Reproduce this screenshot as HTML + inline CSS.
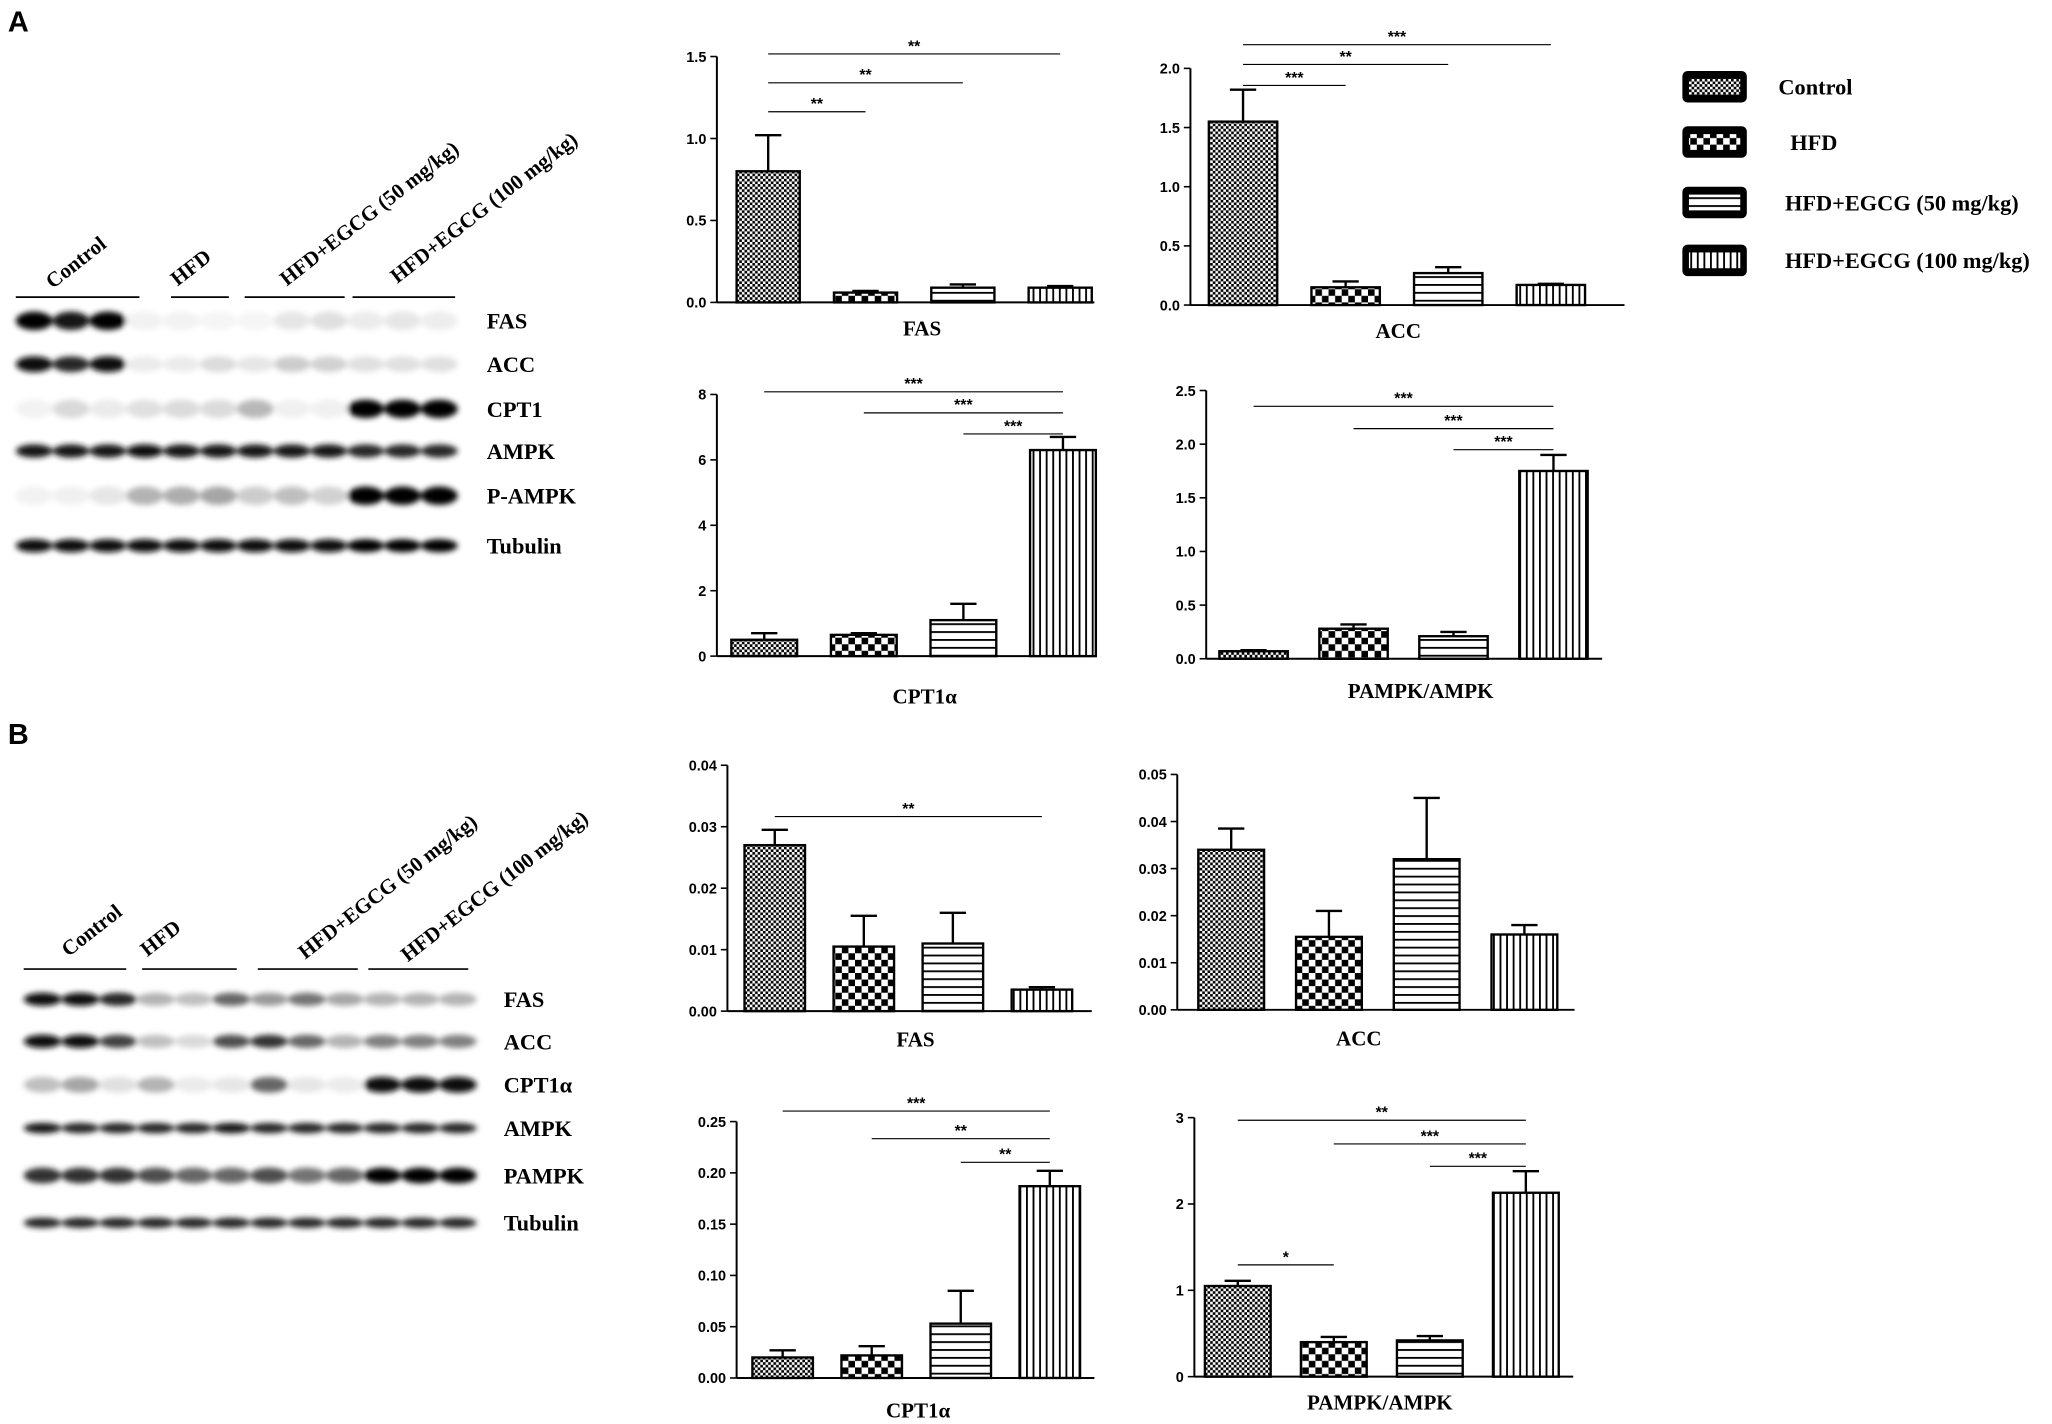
<!DOCTYPE html>
<html><head><meta charset="utf-8"><style>
html,body{margin:0;padding:0;background:#fff}
svg{display:block}
text{font-family:"Liberation Serif",serif;font-weight:bold;fill:#000}
.tk{font-family:"Liberation Sans",sans-serif;font-size:11px}
.sans{font-family:"Liberation Sans",sans-serif}
</style></head><body>
<svg id="fig" width="2052" height="1424" viewBox="0 0 1560 1083" preserveAspectRatio="none" xmlns="http://www.w3.org/2000/svg">
<defs>
<pattern id="p0" width="4" height="4" patternUnits="userSpaceOnUse"><rect width="4" height="4" fill="#fff"/><rect width="2" height="2" fill="#000"/><rect x="2" y="2" width="2" height="2" fill="#000"/></pattern>
<pattern id="p1" width="10" height="10" patternUnits="userSpaceOnUse"><rect width="10" height="10" fill="#fff"/><rect width="5" height="5" fill="#000"/><rect x="5" y="5" width="5" height="5" fill="#000"/></pattern>
<pattern id="p2" width="6" height="6" patternUnits="userSpaceOnUse"><rect width="6" height="6" fill="#fff"/><rect y="0" width="6" height="1.4" fill="#000"/></pattern>
<pattern id="p3" width="5" height="6" patternUnits="userSpaceOnUse"><rect width="5" height="6" fill="#fff"/><rect x="0" width="1.4" height="6" fill="#000"/></pattern>
<filter id="bl" x="-50%" y="-50%" width="200%" height="200%"><feGaussianBlur stdDeviation="2.2"/></filter>
</defs>
<text x="6" y="24" font-size="22" class="sans">A</text>
<text x="6" y="566" font-size="22" class="sans">B</text>
<g id="legend"></g>
<g id="blots"></g>
<g id="charts"></g>
</svg>
<script>
const NS="http://www.w3.org/2000/svg";
const svg=document.getElementById('fig');
function mk(tag,attrs,parent,txt){const e=document.createElementNS(NS,tag);for(const k in attrs)e.setAttribute(k,attrs[k]);if(txt!==undefined)e.textContent=txt;(parent||svg).appendChild(e);return e;}

// ---- Chart data ----
const groups=["Control","HFD","HFD+EGCG (50 mg/kg)","HFD+EGCG (100 mg/kg)"];
const aFasVals=[0.80,0.06,0.09,0.09];   const aFasErr=[0.22,0.01,0.02,0.01];   const aFasTicks=[0,0.5,1.0,1.5];
const aAccVals=[1.55,0.15,0.27,0.17];   const aAccErr=[0.27,0.05,0.05,0.01];   const aAccTicks=[0,0.5,1.0,1.5,2.0];
const aCptVals=[0.50,0.65,1.10,6.30];   const aCptErr=[0.20,0.05,0.50,0.40];   const aCptTicks=[0,2,4,6,8];
const aPamVals=[0.07,0.28,0.21,1.75];   const aPamErr=[0.01,0.04,0.04,0.15];   const aPamTicks=[0,0.5,1.0,1.5,2.0,2.5];
const bFasVals=[0.027,0.0105,0.011,0.0035]; const bFasErr=[0.0025,0.005,0.005,0.0004]; const bFasTicks=[0,0.01,0.02,0.03,0.04];
const bAccVals=[0.034,0.0155,0.032,0.016];  const bAccErr=[0.0045,0.0055,0.013,0.002]; const bAccTicks=[0,0.01,0.02,0.03,0.04,0.05];
const bCptVals=[0.020,0.022,0.053,0.187];   const bCptErr=[0.007,0.009,0.032,0.015];   const bCptTicks=[0,0.05,0.10,0.15,0.20,0.25];
const bPamVals=[1.05,0.40,0.42,2.13];       const bPamErr=[0.06,0.06,0.05,0.25];       const bPamTicks=[0,1,2,3];

const charts=[
 {n:'a-fas',t:'FAS',v:aFasVals,e:aFasErr,ticks:aFasTicks,dec:1,x0:545,x1:832,y0:230,y1:43,bx:584,dx:74,bw:48,lx:701,ly:255,sig:[[0,1,85,'**'],[0,2,63,'**'],[0,3,41,'**']]},
 {n:'a-acc',t:'ACC',v:aAccVals,e:aAccErr,ticks:aAccTicks,dec:1,x0:905,x1:1235,y0:232,y1:52,bx:945,dx:78,bw:52,lx:1063,ly:257,sig:[[0,1,65,'***'],[0,2,49,'**'],[0,3,34,'***']]},
 {n:'a-cpt',t:'CPT1α',v:aCptVals,e:aCptErr,ticks:aCptTicks,dec:0,x0:545,x1:832,y0:499,y1:300,bx:581,dx:75.7,bw:50,lx:703,ly:535,sig:[[0,3,298,'***'],[1,3,314,'***'],[2,3,330,'***']]},
 {n:'a-pampk',t:'PAMPK/AMPK',v:aPamVals,e:aPamErr,ticks:aPamTicks,dec:1,x0:917,x1:1218,y0:501,y1:297,bx:953,dx:76,bw:52,lx:1080,ly:531,sig:[[0,3,309,'***'],[1,3,326,'***'],[2,3,342,'***']]},
 {n:'b-fas',t:'FAS',v:bFasVals,e:bFasErr,ticks:bFasTicks,dec:2,x0:553,x1:830,y0:769,y1:582,bx:589,dx:67.7,bw:46,lx:696,ly:796,sig:[[0,3,621,'**']]},
 {n:'b-acc',t:'ACC',v:bAccVals,e:bAccErr,ticks:bAccTicks,dec:2,x0:895,x1:1197,y0:768,y1:589,bx:936,dx:74.3,bw:50,lx:1033,ly:795,sig:[]},
 {n:'b-cpt',t:'CPT1α',v:bCptVals,e:bCptErr,ticks:bCptTicks,dec:2,x0:560,x1:832,y0:1048,y1:853,bx:595,dx:67.7,bw:46,lx:698,ly:1078,sig:[[0,3,845,'***'],[1,3,866,'**'],[2,3,884,'**']]},
 {n:'b-pampk',t:'PAMPK/AMPK',v:bPamVals,e:bPamErr,ticks:bPamTicks,dec:0,x0:908,x1:1196,y0:1047,y1:850,bx:941,dx:73,bw:50,lx:1049,ly:1072,sig:[[0,3,852,'**'],[1,3,870,'***'],[2,3,887,'***'],[0,1,962,'*']]}
];
const chartsG=document.getElementById('charts');
charts.forEach(c=>{
  const g=mk('g',{},chartsG);
  
  
  const tmax=c.ticks[c.ticks.length-1];
  const y=v=>c.y0-(v/tmax)*(c.y0-c.y1);
  const x=i=>c.bx+c.dx*i;
  const ya=mk('line',{x1:c.x0,y1:c.y1,x2:c.x0,y2:c.y0,stroke:'#000','stroke-width':1.5},g);
  
  const xa=mk('line',{x1:c.x0,y1:c.y0,x2:c.x1,y2:c.y0,stroke:'#000','stroke-width':1.5},g);
  
  c.ticks.forEach(t=>{
    mk('line',{x1:c.x0-5,y1:y(t),x2:c.x0,y2:y(t),stroke:'#000','stroke-width':1.2},g);
    const tl=mk('text',{x:c.x0-8,y:y(t)+4,'text-anchor':'end',class:'tk'},g,t.toFixed(c.dec));
    
  });
  c.v.forEach((v,i)=>{
    const bx=x(i)-c.bw/2;
    const eb=mk('line',{x1:x(i),y1:y(v),x2:x(i),y2:y(v+c.e[i]),stroke:'#000','stroke-width':1.8},g);
    
    mk('line',{x1:x(i)-10,y1:y(v+c.e[i]),x2:x(i)+10,y2:y(v+c.e[i]),stroke:'#000','stroke-width':1.8},g);
    const r=mk('rect',{x:bx,y:y(v),width:c.bw,height:c.y0-y(v),fill:'url(#p'+i+')',stroke:'#000','stroke-width':1.8},g);
    
    
  });
  c.sig.forEach(s=>{
    const sl=mk('line',{x1:x(s[0]),y1:s[2],x2:x(s[1]),y2:s[2],stroke:'#000','stroke-width':0.9},g);
    
    mk('text',{x:(x(s[0])+x(s[1]))/2,y:s[2]-2,'text-anchor':'middle','font-size':12,class:'sans'},g,s[3]);
  });
  const lab=mk('text',{x:c.lx,y:c.ly,'text-anchor':'middle','font-size':16},g,c.t);
  
});

// ---- Legend ----
const lg=document.getElementById('legend');
const legY=[66,108,154,198];
const legX=[1352,1361,1357,1357];
groups.forEach((gname,i)=>{
  const it=mk('g',{},lg);
  
  
  mk('rect',{x:1279,y:legY[i]-12,width:49,height:24,rx:4,fill:'#000'},it);
  mk('rect',{x:1284,y:legY[i]-6,width:39,height:12,fill:'url(#p'+i+')'},it);
  mk('text',{x:legX[i],y:legY[i]+6,'font-size':17},it,gname);
});

// ---- Blots ----
const bg=document.getElementById('blots');
const blotA={x0:12,lw:28,rows:[
 ['FAS',244,[1,.9,1,.05,.05,.04,.04,.1,.12,.08,.1,.07],7],
 ['ACC',277,[.95,.85,.95,.08,.08,.14,.1,.2,.18,.12,.12,.12],6],
 ['CPT1',311,[.05,.15,.08,.12,.14,.14,.28,.06,.06,1,1,1],7],
 ['AMPK',343,[.9,.9,.9,.95,.9,.9,.9,.9,.9,.85,.85,.85],5],
 ['P-AMPK',377,[.05,.06,.1,.3,.32,.35,.2,.25,.18,1,1,1],7],
 ['Tubulin',415,[.95,.95,.95,.95,.95,.95,.95,.95,.95,1,1,1],5]],
 lbx:370,lines:[[12,106],[130,174],[186,262],[268,346]],liney:226,
 heads:[['Control',40,220],['HFD',135,218],['HFD+EGCG (50 mg/kg)',218,218],['HFD+EGCG (100 mg/kg)',302,216]],pre:'a'};
const blotB={x0:18,lw:28.7,rows:[
 ['FAS',760,[.95,.95,.85,.3,.25,.6,.4,.55,.35,.3,.3,.3],5],
 ['ACC',792,[.95,.95,.75,.25,.15,.7,.8,.6,.3,.5,.5,.5],5],
 ['CPT1α',825,[.25,.35,.12,.3,.08,.1,.6,.1,.08,.95,.95,.95],6],
 ['AMPK',858,[.9,.85,.85,.85,.85,.9,.85,.85,.85,.85,.85,.85],4],
 ['PAMPK',894,[.8,.8,.8,.7,.6,.6,.7,.55,.6,1,1,1],6],
 ['Tubulin',930,[.85,.85,.85,.85,.85,.85,.85,.85,.85,.85,.85,.85],4]],
 lbx:383,lines:[[18,96],[108,180],[196,272],[280,356]],liney:737,
 heads:[['Control',52,728],['HFD',112,728],['HFD+EGCG (50 mg/kg)',232,730],['HFD+EGCG (100 mg/kg)',310,732]],pre:'b'};
[blotA,blotB].forEach(b=>{
  const g=mk('g',{},bg);
  
  
  b.lines.forEach(l=>mk('line',{x1:l[0],y1:b.liney,x2:l[1],y2:b.liney,stroke:'#000','stroke-width':1.3},g));
  b.heads.forEach(h=>{const t=mk('text',{x:h[1],y:h[2],'font-size':16,transform:'rotate(-38 '+h[1]+' '+h[2]+')'},g,h[0]);
    });
  b.rows.forEach(r=>{
    const rg=mk('g',{filter:'url(#bl)'},g);
    r[2].forEach((iv,i)=>{
      const v=Math.round(255*(1-iv));
      mk('ellipse',{cx:b.x0+b.lw*(i+0.5),cy:r[1],rx:b.lw*0.5,ry:r[3],fill:'rgb('+v+','+v+','+v+')'},rg);
    });
    const t=mk('text',{x:b.lbx,y:r[1]+6,'font-size':17},g,r[0]);
    
  });
});
</script>
</body></html>
